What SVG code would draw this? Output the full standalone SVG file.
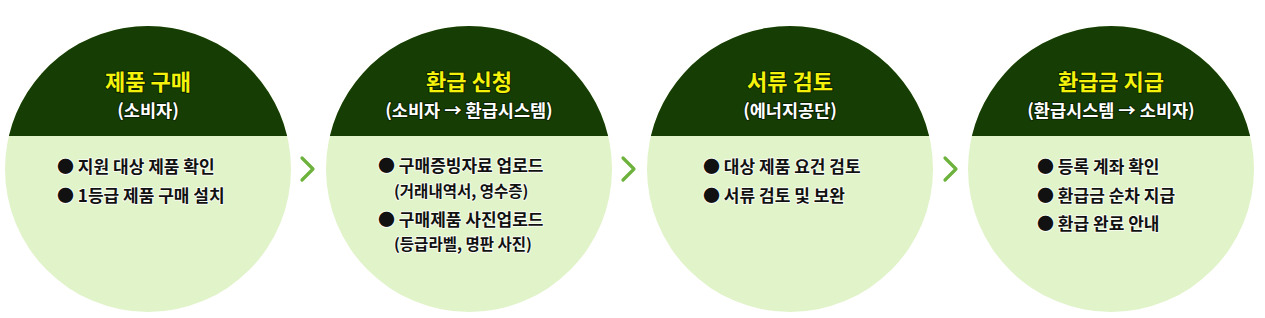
<svg xmlns="http://www.w3.org/2000/svg" width="1265" height="318" viewBox="0 0 1265 318">
<style>
.bg{fill:#ffffff}
.light{fill:#e1f3c9}
.dark{fill:#163d03}
.title{font-family:"Noto Sans CJK KR","Noto Sans",sans-serif;font-weight:700;font-size:22px;fill:#f4f20a;text-anchor:middle;stroke:#0b2200;stroke-width:2;paint-order:stroke;stroke-linejoin:round}
.sub{font-family:"Noto Sans CJK KR","Noto Sans",sans-serif;font-weight:700;font-size:17.5px;fill:#ffffff;text-anchor:middle;stroke:#0b2200;stroke-width:2;paint-order:stroke;stroke-linejoin:round}
.item{font-family:"Noto Sans CJK KR","Noto Sans",sans-serif;font-weight:700;font-size:17px;fill:#111111;stroke:#f6fbef;stroke-width:2;paint-order:stroke;stroke-linejoin:round}
.note{font-family:"Noto Sans CJK KR","Noto Sans",sans-serif;font-weight:700;font-size:15.5px;fill:#111111;stroke:#f6fbef;stroke-width:2;paint-order:stroke;stroke-linejoin:round}
.chev{fill:none;stroke:#6cb23c;stroke-width:3.2;stroke-linecap:round;stroke-linejoin:round}
</style>
<rect class="bg" x="0" y="0" width="1265" height="318"/>
<g id="step1">
<circle class="light" cx="148" cy="169" r="143"/>
<path class="dark" d="M8.86,136 A143,143 0 0 1 287.14,136 Z"/>
<text class="title" x="148" y="90">제품 구매</text>
<text class="sub" x="148" y="117">(소비자)</text>
<text class="item" x="57" y="173">● 지원 대상 제품 확인</text>
<text class="item" x="57" y="202">● 1등급 제품 구매 설치</text>
</g>
<g id="step2">
<circle class="light" cx="469" cy="169" r="143"/>
<path class="dark" d="M329.86,136 A143,143 0 0 1 608.14,136 Z"/>
<text class="title" x="469" y="90">환급 신청</text>
<text class="sub" x="469" y="117">(소비자 → 환급시스템)</text>
<text class="item" x="378" y="172">● 구매증빙자료 업로드</text>
<text class="note" x="394" y="197">(거래내역서, 영수증)</text>
<text class="item" x="378" y="226">● 구매제품 사진업로드</text>
<text class="note" x="394" y="250">(등급라벨, 명판 사진)</text>
</g>
<g id="step3">
<circle class="light" cx="790" cy="169" r="143"/>
<path class="dark" d="M650.86,136 A143,143 0 0 1 929.14,136 Z"/>
<text class="title" x="790" y="90">서류 검토</text>
<text class="sub" x="790" y="117">(에너지공단)</text>
<text class="item" x="703" y="173">● 대상 제품 요건 검토</text>
<text class="item" x="703" y="202">● 서류 검토 및 보완</text>
</g>
<g id="step4">
<circle class="light" cx="1111" cy="169" r="143"/>
<path class="dark" d="M971.86,136 A143,143 0 0 1 1250.14,136 Z"/>
<text class="title" x="1111" y="90">환급금 지급</text>
<text class="sub" x="1111" y="117">(환급시스템 → 소비자)</text>
<text class="item" x="1037" y="173">● 등록 계좌 확인</text>
<text class="item" x="1037" y="202">● 환급금 순차 지급</text>
<text class="item" x="1037" y="230">● 환급 완료 안내</text>
</g>
<g id="connectors">
<polyline class="chev" points="302,158 313,169 302,180"/>
<polyline class="chev" points="623,158 634,169 623,180"/>
<polyline class="chev" points="945,158 956,169 945,180"/>
</g>
</svg>
